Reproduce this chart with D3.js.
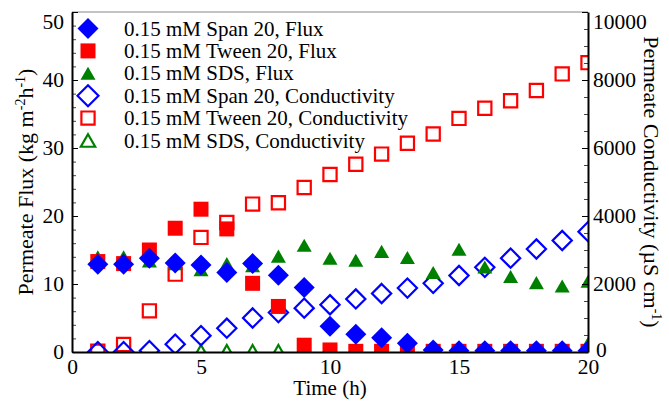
<!DOCTYPE html>
<html>
<head>
<meta charset="utf-8">
<script src="https://cdn.jsdelivr.net/npm/d3@7"></script>
<style>
  html, body { margin: 0; padding: 0; background: #fff; }
  svg text { font-family: "Liberation Serif", "Times New Roman", serif; }
</style>
</head>
<body>
<svg id="chart" width="669" height="401"></svg>
<script>
// Sampling times (h)
const times = d3.range(1, 21);
const sdsCondTimes = d3.range(5, 21);

// Permeate flux (kg m-2 h-1)
const spanFlux  = [12.9, 12.9, 13.8, 13.1, 12.8, 11.7, 13.0, 11.3, 9.5, 3.8, 2.6, 2.1, 1.3, 0.3, 0.2, 0.2, 0.2, 0.2, 0.2, 0.2];
const tweenFlux = [13.3, 13.0, 15.0, 18.2, 21.0, 18.1, 10.1, 6.7, 1.0, 0.3, 0.1, 0.1, 0.1, 0.1, 0.1, 0.1, 0.1, 0.1, 0.1, 0.1];
const sdsFlux   = [14.0, 14.0, 13.4, 13.0, 12.1, 13.0, 12.7, 14.1, 15.7, 13.8, 13.5, 14.8, 13.9, 11.7, 15.1, 12.5, 11.1, 10.2, 9.7, 10.4];

// Permeate conductivity (µS cm-1)
const spanCond  = [10, 10, 40, 230, 480, 700, 1000, 1160, 1290, 1390, 1560, 1720, 1880, 2020, 2250, 2490, 2760, 3030, 3280, 3540];
const tweenCond = [20, 220, 1210, 2290, 3370, 3810, 4350, 4390, 4840, 5220, 5520, 5820, 6140, 6410, 6870, 7170, 7390, 7690, 8180, 8510];
const sdsCond   = [20, 20, 20, 20, 20, 20, 20, 20, 20, 20, 20, 20, 20, 20, 75, 200];

// Axis ticks
const xTicks = [0, 5, 10, 15, 20];
const fluxTicks = [0, 10, 20, 30, 40, 50];
const condTicks = [0, 2000, 4000, 6000, 8000, 10000];

const legendLabels = [
  "0.15 mM Span 20, Flux",
  "0.15 mM Tween 20, Flux",
  "0.15 mM SDS, Flux",
  "0.15 mM Span 20, Conductivity",
  "0.15 mM Tween 20, Conductivity",
  "0.15 mM SDS, Conductivity"
];

const BLUE = "#0000ff", RED = "#ff0000", GREEN = "#008000";
const FONT = '"Liberation Serif", "Times New Roman", serif';

const svg = d3.select("#chart");
const L = 72, R = 588, T = 12, B = 352;

const x = d3.scaleLinear().domain([0, 20]).range([L, R]);
const yF = d3.scaleLinear().domain([0, 50]).range([B, T]);
const yC = d3.scaleLinear().domain([0, 10000]).range([B, T]);

// Marker shapes
const shapes = {
  diamond: (h) => `M0,${-h}L${h},0L0,${h}L${-h},0Z`,
  square: (h) => `M${-h},${-h}H${h}V${h}H${-h}Z`,
  triangle: (h) => `M0,${-h * 0.87}L${h},${h * 0.87}L${-h},${h * 0.87}Z`
};

const series = [
  // hollow conductivity markers sit underneath
  { xs: sdsCondTimes, ys: sdsCond, y: yC, shape: "triangle", size: 7.2, color: GREEN, fill: false },
  { xs: times, ys: tweenCond, y: yC, shape: "square", size: 6.6, color: RED, fill: false },
  { xs: times, ys: spanCond, y: yC, shape: "diamond", size: 9.6, color: BLUE, fill: false },
  // filled flux markers on top
  { xs: times, ys: sdsFlux, y: yF, shape: "triangle", size: 7.5, color: GREEN, fill: true },
  { xs: times, ys: tweenFlux, y: yF, shape: "square", size: 7.5, color: RED, fill: true },
  { xs: times, ys: spanFlux, y: yF, shape: "diamond", size: 10.5, color: BLUE, fill: true }
];

svg.append("defs").append("clipPath").attr("id", "plotClip")
  .append("rect").attr("x", L).attr("y", T).attr("width", R - L).attr("height", B - T);

// top frame line
svg.append("line").attr("x1", L).attr("x2", R).attr("y1", T).attr("y2", T)
  .attr("stroke", "#888").attr("stroke-width", 1);

const plot = svg.append("g").attr("clip-path", "url(#plotClip)");
series.forEach(s => {
  plot.append("g").selectAll("path")
    .data(s.xs.map((t, i) => [t, s.ys[i]]))
    .join("path")
    .attr("transform", d => `translate(${x(d[0])},${s.y(d[1])})`)
    .attr("d", shapes[s.shape](s.size))
    .attr("fill", s.fill ? s.color : "none")
    .attr("stroke", s.fill ? "none" : s.color)
    .attr("stroke-width", s.fill ? 0 : 2.2);
});

function styleAxis(g) {
  g.attr("font-family", FONT);
  g.select(".domain").attr("stroke", "#000").attr("stroke-width", 2);
  g.selectAll(".tick line").attr("stroke", "#000").attr("stroke-width", 1);
  g.selectAll(".tick text").attr("fill", "#000").attr("font-size", 21.5)
    .style("font-family", FONT);
}

// bottom axis
const gx = svg.append("g").attr("transform", `translate(0,${B})`)
  .call(d3.axisBottom(x).tickValues(xTicks).tickSize(0).tickPadding(7).tickFormat(d3.format("d")));
styleAxis(gx);

// left axis (flux)
svg.append("g").attr("transform", `translate(${L},0)`)
  .call(d3.axisLeft(yF).tickValues(d3.range(0, 51, 2)).tickSize(-4).tickFormat(""))
  .call(g => { g.select(".domain").remove(); g.selectAll(".tick line").attr("stroke", "#444"); });
const gl = svg.append("g").attr("transform", `translate(${L},0)`)
  .call(d3.axisLeft(yF).tickValues(fluxTicks).tickSize(-6).tickPadding(8).tickSizeOuter(0));
styleAxis(gl);
gl.selectAll(".tick text").filter(d => d === 50).attr("dy", "0.75em");

// right axis (conductivity)
svg.append("g").attr("transform", `translate(${R},0)`)
  .call(d3.axisRight(yC).tickValues(d3.range(0, 10001, 500)).tickSize(-4).tickFormat(""))
  .call(g => { g.select(".domain").remove(); g.selectAll(".tick line").attr("stroke", "#444"); });
const gr = svg.append("g").attr("transform", `translate(${R},0)`)
  .call(d3.axisRight(yC).tickValues(condTicks).tickSize(-6).tickPadding(5).tickSizeOuter(0).tickFormat(d3.format("d")));
styleAxis(gr);
gr.selectAll(".tick text").filter(d => d === 10000).attr("dy", "0.75em");
gr.selectAll(".tick text").filter(d => d === 0).attr("dx", 3).attr("dy", "0.2em");

// axis titles
svg.append("text").attr("x", (L + R) / 2).attr("y", 395).attr("text-anchor", "middle")
  .style("font-family", FONT).attr("font-size", 21).text("Time (h)");

const lt = svg.append("text").attr("transform", `translate(33,${(T + B) / 2}) rotate(-90)`)
  .style("font-family", FONT).attr("text-anchor", "middle").attr("font-size", 22);
lt.append("tspan").text("Permeate Flux (kg m");
lt.append("tspan").attr("dy", -8).attr("font-size", 14).text("-2");
lt.append("tspan").attr("dy", 8).text("h");
lt.append("tspan").attr("dy", -8).attr("font-size", 14).text("-1");
lt.append("tspan").attr("dy", 8).text(")");

const rt = svg.append("text").attr("transform", `translate(644,${(T + B) / 2}) rotate(90)`)
  .style("font-family", FONT).attr("text-anchor", "middle").attr("font-size", 22);
rt.append("tspan").text("Permeate Conductivity (µS cm");
rt.append("tspan").attr("dy", -8).attr("font-size", 14).text("-1");
rt.append("tspan").attr("dy", 8).text(")");

// legend
const legendSeries = [series[5], series[4], series[3], series[2], series[1], series[0]];
const lg = svg.append("g");
legendSeries.forEach((s, i) => {
  const cy = 28.5 + i * 22.4;
  lg.append("path")
    .attr("transform", `translate(88,${cy})`)
    .attr("d", shapes[s.shape](s.shape === "diamond" ? 10.5 : s.size))
    .attr("fill", s.fill ? s.color : "none")
    .attr("stroke", s.fill ? "none" : s.color)
    .attr("stroke-width", s.fill ? 0 : 2.2);
  lg.append("text").attr("x", 124).attr("y", cy + 7).attr("font-size", 21)
    .style("font-family", FONT).text(legendLabels[i]);
});
</script>
</body>
</html>
